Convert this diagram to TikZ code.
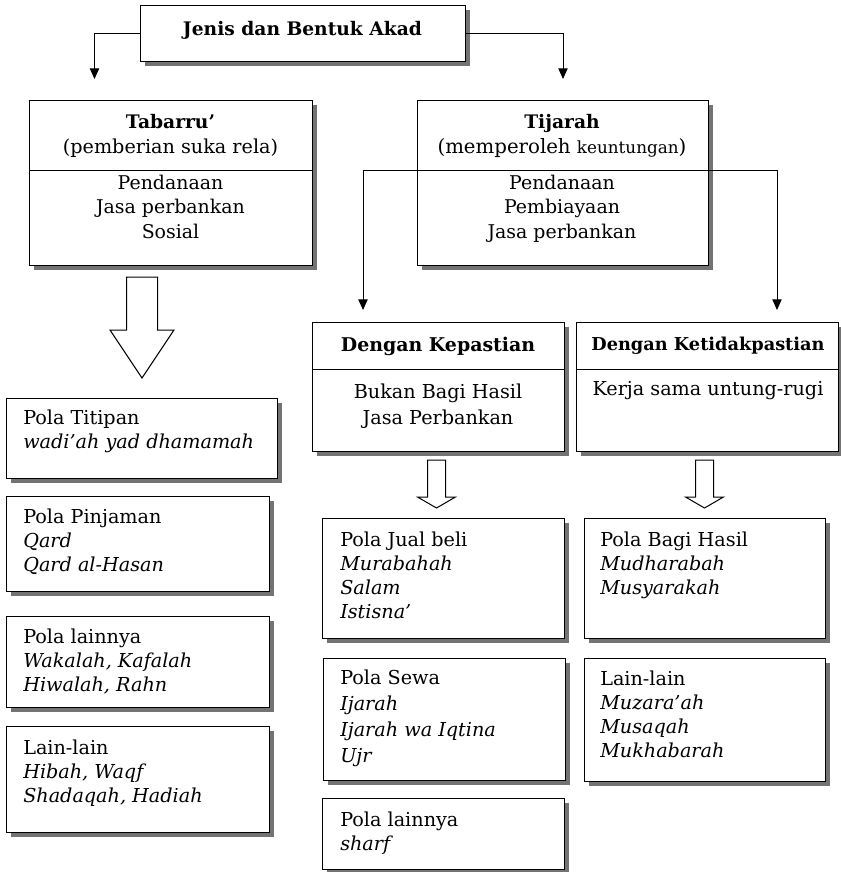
\documentclass[tikz,border=0pt]{standalone}
\usepackage{fontspec}
\setmainfont{DejaVu Serif}
\usetikzlibrary{arrows.meta,shadows}
\newcommand\tfont{\fontsize{14.4}{18}\selectfont}
\begin{document}
\begin{tikzpicture}[x=0.75pt,y=-0.75pt,
  box/.style={draw, line width=0.75pt, fill=white, inner sep=0pt, anchor=north west,
    drop shadow={shadow xshift=3pt, shadow yshift=-3pt, fill=black!55, opacity=1}},
  sz/.style n args={2}{minimum width=#1*0.75pt, minimum height=#2*0.75pt},
  tx/.style={inner sep=0pt, font=\tfont},
  cl/.style={tx, align=center, anchor=base},
  ll/.style={tx, align=left, anchor=base west},
  arr/.style={line width=0.75pt, -{Triangle[length=8pt,width=7pt]}},
  fat/.style={draw, line width=0.75pt, fill=white, line join=miter}
]
\useasboundingbox (0,0) rectangle (841,872);

% top box
\node[box, sz={325}{56}] (top) at (140,5) {};
\node[cl, font=\fontsize{14}{18}\selectfont\bfseries] (topT) at (302.5,35) {Jenis dan Bentuk Akad};

% Tabarru'
\node[box, sz={283}{165}] (tab) at (29,100) {};
\draw[line width=0.75pt] ([yshift=-52.5pt]tab.north west) -- ([yshift=-52.5pt]tab.north east);
\node[cl, font=\fontsize{14}{18}\selectfont\bfseries] (tabT) at (170.5,128) {Tabarru'};
\node[cl] (tabS) at (170.5,153) {(pemberian suka rela)};
\node[cl, font=\fontsize{14.2}{18.6}\selectfont] (tabB) at (170.5,238.6) {Pendanaan\\Jasa perbankan\\Sosial};

% Tijarah
\node[box, sz={291}{165}] (tij) at (417,100) {};
\node[cl, font=\fontsize{14}{18}\selectfont\bfseries] (tijT) at (562,128) {Tijarah};
\node[cl, font=\fontsize{14.8}{18}\selectfont] (tijS) at (562,153) {(memperoleh {\fontsize{12.6}{14}\selectfont keuntungan})};
\node[cl, font=\fontsize{14.2}{18.6}\selectfont] (tijB) at (562,238.6) {Pendanaan\\Pembiayaan\\Jasa perbankan};

% connectors from top
\coordinate (tabIn) at (94.5,79);
\draw[arr] (top.west) -| (tabIn);
\draw[arr] (top.east) -| ([yshift=15.75pt]tij.north);

% Tijarah divider extended with connectors
\coordinate (dR) at (777,170);
\coordinate (kepIn) at (363,310);
\coordinate (ketIn) at (777,310);
\draw[line width=0.75pt, {Triangle[length=8pt,width=7pt]}-{Triangle[length=8pt,width=7pt]}] (kepIn) |- (dR) -- (ketIn);

% big hollow arrow
\draw[fat] (126.5,277) -- (157.5,277) -- (157.5,330) -- (174,330) -- (142,378) -- (110,330) -- (126.5,330) -- cycle;

% Dengan Kepastian
\node[box, sz={252}{129}] (kep) at (312,322) {};
\draw[line width=0.75pt] ([yshift=-35.25pt]kep.north west) -- ([yshift=-35.25pt]kep.north east);
\node[cl, font=\fontsize{14.2}{18}\selectfont\bfseries] (kepT) at (438,351) {Dengan Kepastian};
\node[cl, font=\fontsize{14.4}{20}\selectfont] (kepB) at (438,424.7) {Bukan Bagi Hasil\\Jasa Perbankan};

% Dengan Ketidakpastian
\node[box, sz={262}{129}] (ket) at (576,322) {};
\draw[line width=0.75pt] ([yshift=-35.25pt]ket.north west) -- ([yshift=-35.25pt]ket.north east);
\node[cl, font=\fontsize{13.3}{18}\selectfont\bfseries] (ketT) at (708,350) {Dengan Ketidakpastian};
\node[cl] (ketB) at (708,395) {Kerja sama untung-rugi};

% small hollow arrows
\draw[fat] (427.5,460) -- (445.5,460) -- (445.5,497) -- (455.5,497) -- (436.5,508) -- (417.5,497) -- (427.5,497) -- cycle;
\draw[fat] (695.5,460) -- (713.5,460) -- (713.5,497) -- (723.5,497) -- (704.5,508) -- (685.5,497) -- (695.5,497) -- cycle;

% left column
\node[box, sz={271}{80}] (titip) at (6,398) {};
\node[ll] (titipT) at (23,448) {Pola Titipan\\\textit{wadi'ah yad dhamamah}};
\node[box, sz={263}{95}] (pinj) at (6,496) {};
\node[ll] (pinjT) at (23,571) {Pola Pinjaman\\\textit{Qard}\\\textit{Qard al-Hasan}};
\node[box, sz={263}{91}] (lainA) at (6,616) {};
\node[ll] (lainAT) at (23,691) {Pola lainnya\\\textit{Wakalah, Kafalah}\\\textit{Hiwalah, Rahn}};
\node[box, sz={263}{106}] (lainB) at (6,726) {};
\node[ll] (lainBT) at (23,802) {Lain-lain\\\textit{Hibah, Waqf}\\\textit{Shadaqah, Hadiah}};

% middle column
\node[box, sz={242}{120}] (jual) at (322,518) {};
\node[ll] (jualT) at (340,618) {Pola Jual beli\\\textit{Murabahah}\\\textit{Salam}\\\textit{Istisna'}};
\node[box, sz={242}{122}] (sewa) at (323,658) {};
\node[ll, font=\fontsize{14.4}{19.5}\selectfont] (sewaT) at (340,762) {Pola Sewa\\\textit{Ijarah}\\\textit{Ijarah wa Iqtina}\\\textit{Ujr}};
\node[box, sz={242}{71}] (lainC) at (322,798) {};
\node[ll] (lainCT) at (340,850) {Pola lainnya\\\textit{sharf}};

% right column
\node[box, sz={241}{120}] (bagi) at (584,518) {};
\node[ll] (bagiT) at (600,594) {Pola Bagi Hasil\\\textit{Mudharabah}\\\textit{Musyarakah}};
\node[box, sz={241}{123}] (lainD) at (584,658) {};
\node[ll] (lainDT) at (600,757) {Lain-lain\\\textit{Muzara'ah}\\\textit{Musaqah}\\\textit{Mukhabarah}};
\end{tikzpicture}
\end{document}
